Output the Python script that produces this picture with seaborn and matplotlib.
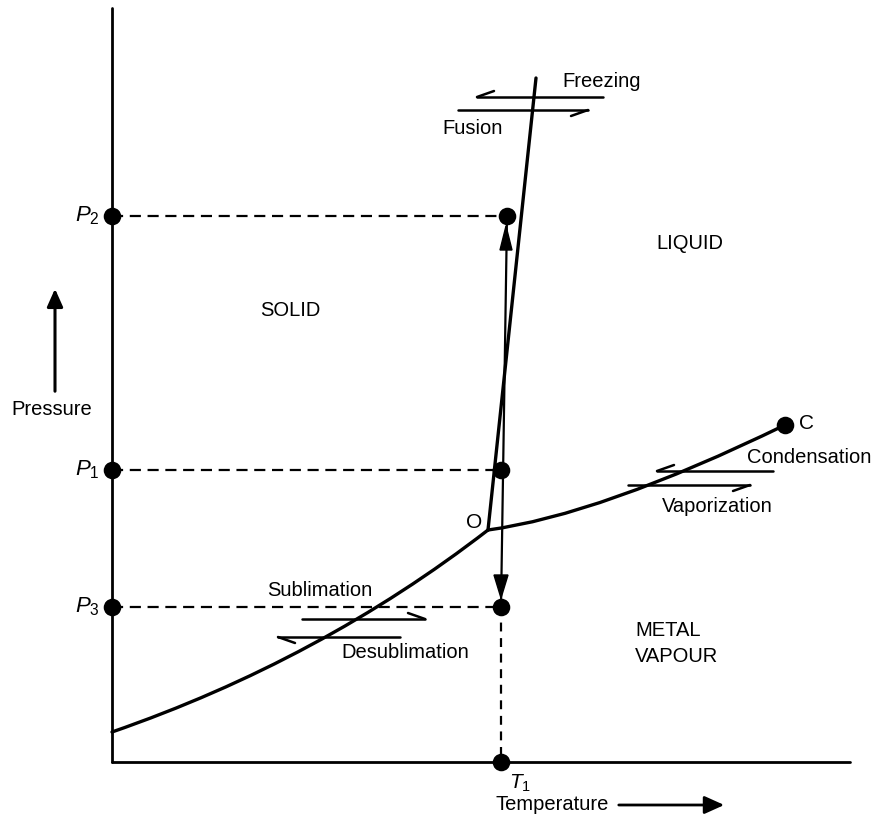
import matplotlib
matplotlib.use("Agg")
import matplotlib.pyplot as plt
from matplotlib.path import Path
from matplotlib.patches import PathPatch, Polygon
import pandas as pd
import seaborn as sns

# --- diagram geometry (pixel-like units, y grows downward) ---
axis_x = 112
axis_bottom = 762
axis_top = 8
axis_right = 850
t1_x = 501

pressure_labels = ["P_2", "P_1", "P_3"]
pressure_y = [216, 470, 607]
right_dot_x = [507, 501, 501]

triple_point = (488, 530)
critical_point = (785, 425)
fusion_top = (536, 78)

# quadratic bezier control points for the two curves
sublimation_curve = [(112, 732), (320, 660), triple_point]
vaporization_curve = [triple_point, (600, 515), critical_point]

# harpoon arrows: (x_start, x_end(tip), y, barb side)
arrows = [
    (603, 477, 97, "up"),     # freezing
    (458, 588, 110, "down"),  # fusion
    (773, 657, 471, "up"),    # condensation
    (628, 750, 485, "down"),  # vaporization
    (302, 425, 619, "up"),    # sublimation
    (400, 278, 637, "down"),  # desublimation
]

labels = [
    ("Freezing", 562, 81, "left"),
    ("Fusion", 442, 128, "left"),
    ("Condensation", 747, 457, "left"),
    ("Vaporization", 662, 506, "left"),
    ("Sublimation", 267, 591, "left"),
    ("Desublimation", 341, 652, "left"),
    ("SOLID", 290, 310, "center"),
    ("LIQUID", 690, 243, "center"),
    ("METAL", 635, 631, "left"),
    ("VAPOUR", 635, 656, "left"),
    ("Pressure", 52, 409, "center"),
    ("Temperature", 496, 804, "left"),
]

sns.set_theme(style="white")
plt.rcParams["font.family"] = ["Liberation Sans", "DejaVu Sans"]
plt.rcParams["mathtext.fontset"] = "custom"
plt.rcParams["mathtext.it"] = "Liberation Sans:italic"
plt.rcParams["mathtext.rm"] = "Liberation Sans"

fig = plt.figure(figsize=(8.78, 8.17), dpi=100)
ax = fig.add_axes([0, 0, 1, 1])
ax.set_xlim(0, 878)
ax.set_ylim(817, 0)
ax.axis("off")

black = "#000000"
lw = 2.4

# axes of the diagram
ax.plot([axis_x, axis_x], [axis_top, axis_bottom], color=black, lw=2)
ax.plot([axis_x, axis_right], [axis_bottom, axis_bottom], color=black, lw=2)

# curves
for pts in (sublimation_curve, vaporization_curve):
    path = Path(pts, [Path.MOVETO, Path.CURVE3, Path.CURVE3])
    ax.add_patch(PathPatch(path, fill=False, edgecolor=black, lw=lw, capstyle="round"))
ax.plot([triple_point[0], fusion_top[0]], [triple_point[1], fusion_top[1]],
        color=black, lw=lw)

# dashed pressure lines
for y, rx in zip(pressure_y, right_dot_x):
    ax.plot([axis_x, rx], [y, y], color=black, lw=1.6, ls=(0, (5, 3)))
# vertical isotherm
ax.plot([right_dot_x[0], t1_x], [pressure_y[0], pressure_y[2]], color=black, lw=1.6)
ax.plot([t1_x, t1_x], [pressure_y[2], axis_bottom], color=black, lw=1.6, ls=(0, (4, 3)))
# arrowheads on the isotherm
ax.add_patch(Polygon([(506, 226), (500, 250), (512, 250)], closed=True, color=black))
ax.add_patch(Polygon([(501, 598), (494, 575), (508, 575)], closed=True, color=black))

# dots
dots = pd.DataFrame({
    "x": [axis_x] * 3 + right_dot_x + [t1_x, critical_point[0]],
    "y": pressure_y + pressure_y + [axis_bottom, critical_point[1]],
})
sns.scatterplot(data=dots, x="x", y="y", ax=ax, s=160, color=black,
                edgecolor=black, linewidth=0, zorder=5)

# harpoon arrows
for x0, x1, y, side in arrows:
    ax.plot([x0, x1], [y, y], color=black, lw=1.8)
    d = 1 if x1 > x0 else -1
    off = -6 if side == "up" else 6
    ax.plot([x1, x1 - d * 17], [y, y + off], color=black, lw=1.8)

# text labels
for txt, x, y, ha in labels:
    ax.text(x, y, txt, ha=ha, va="center", fontsize=14.5, color=black)

for lab, y in zip(pressure_labels, pressure_y):
    ax.text(100, y, f"${lab}$", ha="right", va="center", fontsize=16, color=black)
ax.text(509, 783, "$T_1$", ha="left", va="center", fontsize=15, color=black)
ax.text(triple_point[0] - 14, triple_point[1] - 8, "O", ha="center", va="center",
        fontsize=15, color=black)
ax.text(critical_point[0] + 22, critical_point[1] - 2, "C", ha="center", va="center",
        fontsize=15, color=black)

# pressure and temperature arrows
ax.annotate("", xy=(55, 286), xytext=(55, 394),
            arrowprops=dict(arrowstyle="-|>,head_length=0.9,head_width=0.4",
                            color=black, lw=2.2))
ax.annotate("", xy=(727, 805), xytext=(616, 805),
            arrowprops=dict(arrowstyle="-|>,head_length=1.0,head_width=0.45",
                            color=black, lw=2.0))

fig.savefig("out.png", dpi=100)
